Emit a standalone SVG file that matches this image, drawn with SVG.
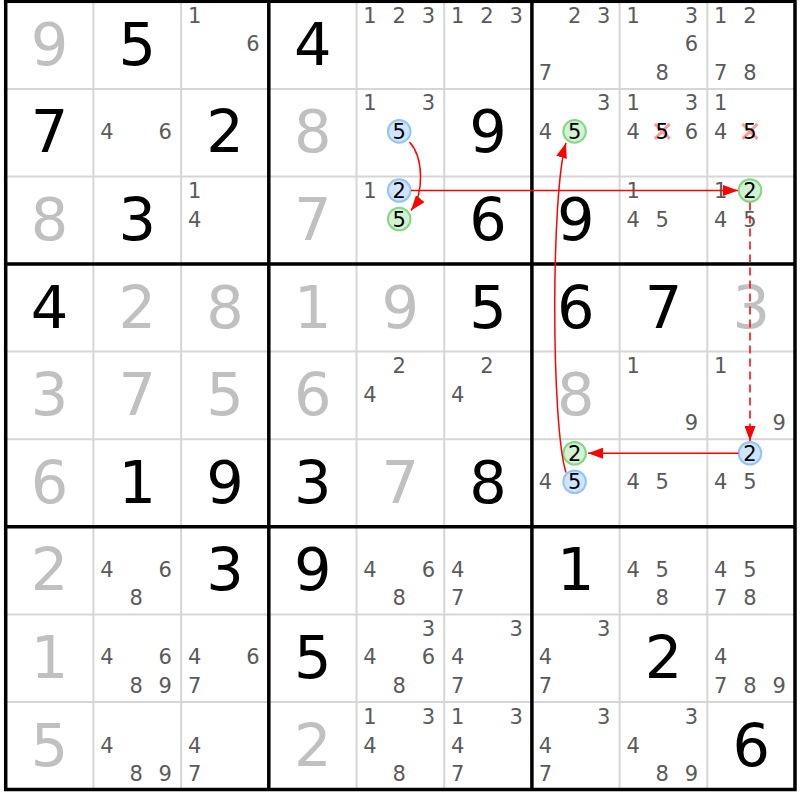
<svg xmlns="http://www.w3.org/2000/svg" width="800" height="800" viewBox="0 0 800 800">
<style>
text{font-family:"DejaVu Sans","Liberation Sans",sans-serif;text-anchor:middle}
.g{font-size:59px;fill:#000}
.s{font-size:59px;fill:#c0c0c0}
.c{font-size:21px;fill:#5a5a5a}
.k{font-size:21px;fill:#000}
.thin{stroke:#d6d6d6;stroke-width:2}
.thick{stroke:#000;stroke-width:3.5;fill:none}
.cb{fill:#cfe5ff;stroke:#93c3f7;stroke-width:2}
.cg{fill:#d3f1d3;stroke:#82d882;stroke-width:2}
.x{stroke:#ff8c8c;stroke-width:3;stroke-opacity:0.85}
.ar{stroke:#ff0000;stroke-width:1.5;fill:none}
</style>
<defs>
<marker id="ah" markerWidth="15" markerHeight="11" refX="15" refY="5.5" orient="auto" markerUnits="userSpaceOnUse"><path d="M0,0 L15,5.5 L0,11 z" fill="#ff0000" stroke="none"/></marker>
</defs>
<rect x="0" y="0" width="800" height="800" fill="#fff"/>
<g id="grid">
<path class="thin" d="M93.4,1.3V789.5M181.1,1.3V789.5M356.5,1.3V789.5M444.2,1.3V789.5M619.6,1.3V789.5M707.3,1.3V789.5M5.7,88.9H795M5.7,176.5H795M5.7,351.6H795M5.7,439.2H795M5.7,614.4H795M5.7,702H795"/>
<path class="thick" d="M268.8,1.3V789.5M531.9,1.3V789.5M5.7,264H795M5.7,526.8H795"/>
<rect class="thick" x="5.7" y="1.3" width="789.3" height="788.2"/>
</g>
<g id="r0c0"><text class="s" x="49.55" y="64.8">9</text></g>
<g id="r0c1"><text class="g" x="137.25" y="64.8">5</text></g>
<g id="r0c2"><text class="c" x="194.6" y="22.8">1</text><text class="c" x="253" y="51.3">6</text></g>
<g id="r0c3"><text class="g" x="312.65" y="64.8">4</text></g>
<g id="r0c4"><text class="c" x="370" y="22.8">1</text><text class="c" x="399.2" y="22.8">2</text><text class="c" x="428.4" y="22.8">3</text></g>
<g id="r0c5"><text class="c" x="457.7" y="22.8">1</text><text class="c" x="486.9" y="22.8">2</text><text class="c" x="516.1" y="22.8">3</text></g>
<g id="r0c6"><text class="c" x="574.6" y="22.8">2</text><text class="c" x="603.8" y="22.8">3</text><text class="c" x="545.4" y="79.8">7</text></g>
<g id="r0c7"><text class="c" x="633.1" y="22.8">1</text><text class="c" x="691.5" y="22.8">3</text><text class="c" x="691.5" y="51.3">6</text><text class="c" x="662.3" y="79.8">8</text></g>
<g id="r0c8"><text class="c" x="720.8" y="22.8">1</text><text class="c" x="750" y="22.8">2</text><text class="c" x="720.8" y="79.8">7</text><text class="c" x="750" y="79.8">8</text></g>

<g id="r1c0"><text class="g" x="49.55" y="152.4">7</text></g>
<g id="r1c1"><text class="c" x="106.9" y="138.9">4</text><text class="c" x="165.3" y="138.9">6</text></g>
<g id="r1c2"><text class="g" x="224.95" y="152.4">2</text></g>
<g id="r1c3"><text class="s" x="312.65" y="152.4">8</text></g>
<g id="r1c4"><text class="c" x="370" y="110.4">1</text><text class="c" x="428.4" y="110.4">3</text><circle class="cb" cx="399.2" cy="131.4" r="11.3"/><text class="k" x="399.2" y="138.9">5</text></g>
<g id="r1c5"><text class="g" x="488.05" y="152.4">9</text></g>
<g id="r1c6"><text class="c" x="603.8" y="110.4">3</text><text class="c" x="545.4" y="138.9">4</text><circle class="cg" cx="574.6" cy="131.4" r="11.3"/><text class="k" x="574.6" y="138.9">5</text></g>
<g id="r1c7"><text class="c" x="633.1" y="110.4">1</text><text class="c" x="691.5" y="110.4">3</text><text class="c" x="633.1" y="138.9">4</text><path class="x" d="M654.8,123.9l15,15M669.8,123.9l-15,15"/><text class="k" x="662.3" y="138.9">5</text><text class="c" x="691.5" y="138.9">6</text></g>
<g id="r1c8"><text class="c" x="720.8" y="110.4">1</text><text class="c" x="720.8" y="138.9">4</text><path class="x" d="M742.5,123.9l15,15M757.5,123.9l-15,15"/><text class="k" x="750" y="138.9">5</text></g>

<g id="r2c0"><text class="s" x="49.55" y="240">8</text></g>
<g id="r2c1"><text class="g" x="137.25" y="240">3</text></g>
<g id="r2c2"><text class="c" x="194.6" y="198">1</text><text class="c" x="194.6" y="226.5">4</text></g>
<g id="r2c3"><text class="s" x="312.65" y="240">7</text></g>
<g id="r2c4"><text class="c" x="370" y="198">1</text><circle class="cb" cx="399.2" cy="190.5" r="11.3"/><text class="k" x="399.2" y="198">2</text><circle class="cg" cx="399.2" cy="219" r="11.3"/><text class="k" x="399.2" y="226.5">5</text></g>
<g id="r2c5"><text class="g" x="488.05" y="240">6</text></g>
<g id="r2c6"><text class="g" x="575.75" y="240">9</text></g>
<g id="r2c7"><text class="c" x="633.1" y="198">1</text><text class="c" x="633.1" y="226.5">4</text><text class="c" x="662.3" y="226.5">5</text></g>
<g id="r2c8"><text class="c" x="720.8" y="198">1</text><circle class="cg" cx="750" cy="190.5" r="11.3"/><text class="k" x="750" y="198">2</text><text class="c" x="720.8" y="226.5">4</text><text class="c" x="750" y="226.5">5</text></g>

<g id="r3c0"><text class="g" x="49.55" y="327.5">4</text></g>
<g id="r3c1"><text class="s" x="137.25" y="327.5">2</text></g>
<g id="r3c2"><text class="s" x="224.95" y="327.5">8</text></g>
<g id="r3c3"><text class="s" x="312.65" y="327.5">1</text></g>
<g id="r3c4"><text class="s" x="400.35" y="327.5">9</text></g>
<g id="r3c5"><text class="g" x="488.05" y="327.5">5</text></g>
<g id="r3c6"><text class="g" x="575.75" y="327.5">6</text></g>
<g id="r3c7"><text class="g" x="663.45" y="327.5">7</text></g>
<g id="r3c8"><text class="s" x="751.15" y="327.5">3</text></g>

<g id="r4c0"><text class="s" x="49.55" y="415.1">3</text></g>
<g id="r4c1"><text class="s" x="137.25" y="415.1">7</text></g>
<g id="r4c2"><text class="s" x="224.95" y="415.1">5</text></g>
<g id="r4c3"><text class="s" x="312.65" y="415.1">6</text></g>
<g id="r4c4"><text class="c" x="399.2" y="373.1">2</text><text class="c" x="370" y="401.6">4</text></g>
<g id="r4c5"><text class="c" x="486.9" y="373.1">2</text><text class="c" x="457.7" y="401.6">4</text></g>
<g id="r4c6"><text class="s" x="575.75" y="415.1">8</text></g>
<g id="r4c7"><text class="c" x="633.1" y="373.1">1</text><text class="c" x="691.5" y="430.1">9</text></g>
<g id="r4c8"><text class="c" x="720.8" y="373.1">1</text><text class="c" x="779.2" y="430.1">9</text></g>

<g id="r5c0"><text class="s" x="49.55" y="502.7">6</text></g>
<g id="r5c1"><text class="g" x="137.25" y="502.7">1</text></g>
<g id="r5c2"><text class="g" x="224.95" y="502.7">9</text></g>
<g id="r5c3"><text class="g" x="312.65" y="502.7">3</text></g>
<g id="r5c4"><text class="s" x="400.35" y="502.7">7</text></g>
<g id="r5c5"><text class="g" x="488.05" y="502.7">8</text></g>
<g id="r5c6"><circle class="cg" cx="574.6" cy="453.2" r="11.3"/><text class="k" x="574.6" y="460.7">2</text><text class="c" x="545.4" y="489.2">4</text><circle class="cb" cx="574.6" cy="481.7" r="11.3"/><text class="k" x="574.6" y="489.2">5</text></g>
<g id="r5c7"><text class="c" x="633.1" y="489.2">4</text><text class="c" x="662.3" y="489.2">5</text></g>
<g id="r5c8"><circle class="cb" cx="750" cy="453.2" r="11.3"/><text class="k" x="750" y="460.7">2</text><text class="c" x="720.8" y="489.2">4</text><text class="c" x="750" y="489.2">5</text></g>

<g id="r6c0"><text class="s" x="49.55" y="590.3">2</text></g>
<g id="r6c1"><text class="c" x="106.9" y="576.8">4</text><text class="c" x="165.3" y="576.8">6</text><text class="c" x="136.1" y="605.3">8</text></g>
<g id="r6c2"><text class="g" x="224.95" y="590.3">3</text></g>
<g id="r6c3"><text class="g" x="312.65" y="590.3">9</text></g>
<g id="r6c4"><text class="c" x="370" y="576.8">4</text><text class="c" x="428.4" y="576.8">6</text><text class="c" x="399.2" y="605.3">8</text></g>
<g id="r6c5"><text class="c" x="457.7" y="576.8">4</text><text class="c" x="457.7" y="605.3">7</text></g>
<g id="r6c6"><text class="g" x="575.75" y="590.3">1</text></g>
<g id="r6c7"><text class="c" x="633.1" y="576.8">4</text><text class="c" x="662.3" y="576.8">5</text><text class="c" x="662.3" y="605.3">8</text></g>
<g id="r6c8"><text class="c" x="720.8" y="576.8">4</text><text class="c" x="750" y="576.8">5</text><text class="c" x="720.8" y="605.3">7</text><text class="c" x="750" y="605.3">8</text></g>

<g id="r7c0"><text class="s" x="49.55" y="677.9">1</text></g>
<g id="r7c1"><text class="c" x="106.9" y="664.4">4</text><text class="c" x="165.3" y="664.4">6</text><text class="c" x="136.1" y="692.9">8</text><text class="c" x="165.3" y="692.9">9</text></g>
<g id="r7c2"><text class="c" x="194.6" y="664.4">4</text><text class="c" x="253" y="664.4">6</text><text class="c" x="194.6" y="692.9">7</text></g>
<g id="r7c3"><text class="g" x="312.65" y="677.9">5</text></g>
<g id="r7c4"><text class="c" x="428.4" y="635.9">3</text><text class="c" x="370" y="664.4">4</text><text class="c" x="428.4" y="664.4">6</text><text class="c" x="399.2" y="692.9">8</text></g>
<g id="r7c5"><text class="c" x="516.1" y="635.9">3</text><text class="c" x="457.7" y="664.4">4</text><text class="c" x="457.7" y="692.9">7</text></g>
<g id="r7c6"><text class="c" x="603.8" y="635.9">3</text><text class="c" x="545.4" y="664.4">4</text><text class="c" x="545.4" y="692.9">7</text></g>
<g id="r7c7"><text class="g" x="663.45" y="677.9">2</text></g>
<g id="r7c8"><text class="c" x="720.8" y="664.4">4</text><text class="c" x="720.8" y="692.9">7</text><text class="c" x="750" y="692.9">8</text><text class="c" x="779.2" y="692.9">9</text></g>

<g id="r8c0"><text class="s" x="49.55" y="765.5">5</text></g>
<g id="r8c1"><text class="c" x="106.9" y="752.5">4</text><text class="c" x="136.1" y="781">8</text><text class="c" x="165.3" y="781">9</text></g>
<g id="r8c2"><text class="c" x="194.6" y="752.5">4</text><text class="c" x="194.6" y="781">7</text></g>
<g id="r8c3"><text class="s" x="312.65" y="765.5">2</text></g>
<g id="r8c4"><text class="c" x="370" y="724">1</text><text class="c" x="428.4" y="724">3</text><text class="c" x="370" y="752.5">4</text><text class="c" x="399.2" y="781">8</text></g>
<g id="r8c5"><text class="c" x="457.7" y="724">1</text><text class="c" x="516.1" y="724">3</text><text class="c" x="457.7" y="752.5">4</text><text class="c" x="457.7" y="781">7</text></g>
<g id="r8c6"><text class="c" x="603.8" y="724">3</text><text class="c" x="545.4" y="752.5">4</text><text class="c" x="545.4" y="781">7</text></g>
<g id="r8c7"><text class="c" x="691.5" y="724">3</text><text class="c" x="633.1" y="752.5">4</text><text class="c" x="662.3" y="781">8</text><text class="c" x="691.5" y="781">9</text></g>
<g id="r8c8"><text class="g" x="751.15" y="765.5">6</text></g>

<g id="connectors">
<path class="ar" d="M409.5,142 C424,158 424,194 411,210.5" marker-end="url(#ah)"/>
<path class="ar" d="M411,190.5 L738,190.5" marker-end="url(#ah)"/>
<path class="ar" d="M750,202.5 L750,441" stroke-dasharray="8,5" marker-end="url(#ah)"/>
<path class="ar" d="M738.5,453.2 L588,453.2" marker-end="url(#ah)"/>
<path class="ar" d="M566,472.5 C551,425 551,191 566,143" marker-end="url(#ah)"/>
</g>
</svg>
